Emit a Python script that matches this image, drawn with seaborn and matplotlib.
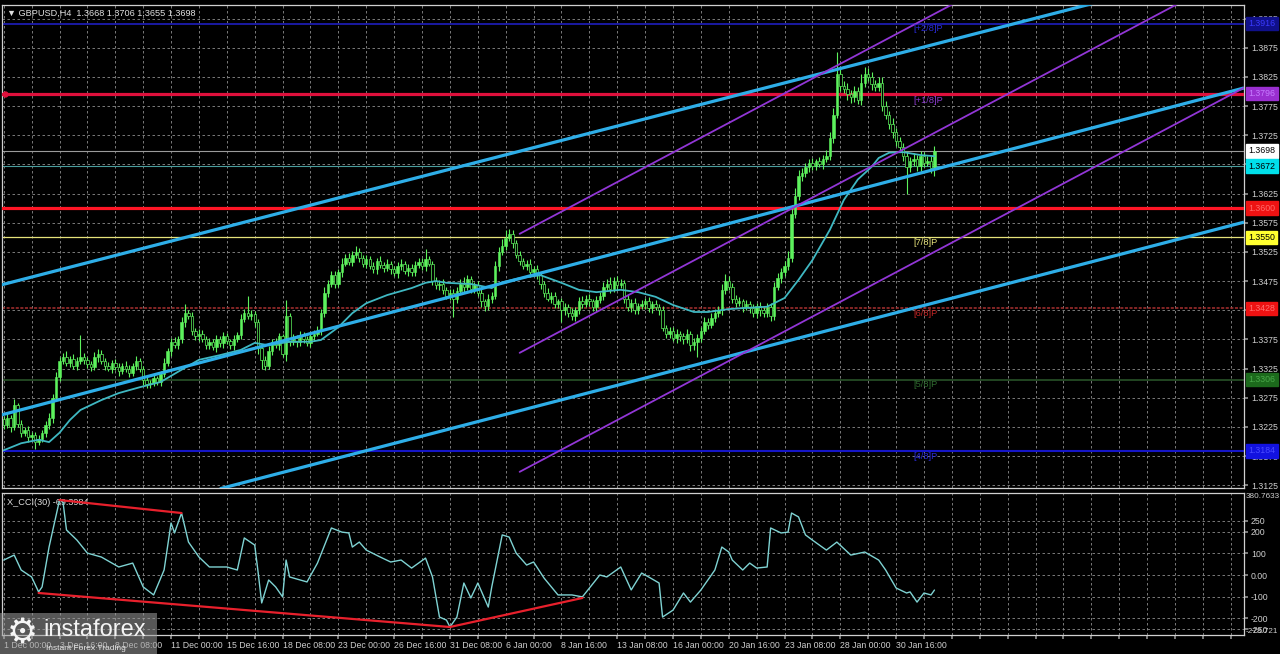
import numpy as np
import pandas as pd
import matplotlib
matplotlib.use("Agg")
import matplotlib.pyplot as plt
import matplotlib.transforms as mtransforms
from matplotlib.patches import Rectangle
import seaborn as sns

# GBPUSD H4 candles, one close per bar
closes = [1.3228, 1.3240, 1.3225, 1.3262,
          1.3230, 1.3215, 1.3220, 1.3208, 1.3212, 1.3200, 1.3205,
          1.3215, 1.3228, 1.3240,
          1.3275, 1.3310, 1.3338,
          1.3345, 1.3335, 1.3342, 1.3330, 1.3338, 1.3345,
          1.3340, 1.3332, 1.3328, 1.3345, 1.3350, 1.3338, 1.3330, 1.3325, 1.3335, 1.3328, 1.3320, 1.3330, 1.3325, 1.3318, 1.3330, 1.3338, 1.3325,
          1.3305, 1.3298, 1.3300, 1.3308, 1.3302, 1.3315,
          1.3335, 1.3355, 1.3370, 1.3365, 1.3375,
          1.3405, 1.3420, 1.3415,
          1.3390, 1.3380, 1.3385,
          1.3375, 1.3365, 1.3370, 1.3362, 1.3375, 1.3368, 1.3380, 1.3372, 1.3365, 1.3375, 1.3382,
          1.3410, 1.3420, 1.3415, 1.3418, 1.3405,
          1.3360, 1.3340, 1.3330, 1.3355,
          1.3370, 1.3365, 1.3380, 1.3350, 1.3415, 1.3370,
          1.3378, 1.3370, 1.3382, 1.3375, 1.3368, 1.3380, 1.3385, 1.3390,
          1.3420, 1.3455, 1.3470,
          1.3485, 1.3470, 1.3490,
          1.3505, 1.3515, 1.3508, 1.3520, 1.3525, 1.3515,
          1.3505, 1.3512, 1.3500, 1.3495, 1.3510, 1.3502, 1.3498, 1.3505,
          1.3495, 1.3488, 1.3500, 1.3505, 1.3492, 1.3498, 1.3490, 1.3502, 1.3508, 1.3500, 1.3512, 1.3505,
          1.3475, 1.3468, 1.3470,
          1.3460, 1.3450, 1.3455, 1.3445, 1.3458,
          1.3470, 1.3465, 1.3478, 1.3462, 1.3468, 1.3455,
          1.3440, 1.3432, 1.3445, 1.3450,
          1.3500, 1.3525, 1.3535,
          1.3548, 1.3555, 1.3540,
          1.3520, 1.3510, 1.3500, 1.3505, 1.3490, 1.3495, 1.3485,
          1.3470, 1.3455, 1.3445, 1.3450, 1.3435, 1.3440,
          1.3425, 1.3430, 1.3420, 1.3415, 1.3425, 1.3440,
          1.3435, 1.3445, 1.3440, 1.3430, 1.3442, 1.3450,
          1.3465, 1.3470, 1.3462, 1.3475, 1.3468, 1.3472,
          1.3445, 1.3430, 1.3438, 1.3425, 1.3432,
          1.3435, 1.3440, 1.3428, 1.3435, 1.3430, 1.3425,
          1.3395, 1.3385, 1.3390, 1.3378, 1.3385, 1.3380,
          1.3375, 1.3385, 1.3365, 1.3370, 1.3378, 1.3390,
          1.3405, 1.3400, 1.3412, 1.3420, 1.3425,
          1.3460, 1.3475, 1.3465,
          1.3445, 1.3438, 1.3440, 1.3430, 1.3435, 1.3428, 1.3420, 1.3432, 1.3425,
          1.3420, 1.3430, 1.3415,
          1.3465, 1.3480,
          1.3490, 1.3500, 1.3515,
          1.3590, 1.3620,
          1.3655, 1.3660,
          1.3670, 1.3678, 1.3672, 1.3680, 1.3675, 1.3685, 1.3690,
          1.3720, 1.3760,
          1.3830,
          1.3810, 1.3805, 1.3795,
          1.3790, 1.3800, 1.3785,
          1.3815, 1.3830, 1.3825,
          1.3812, 1.3808, 1.3815,
          1.3775, 1.3760, 1.3745,
          1.3730, 1.3715, 1.3705,
          1.3690, 1.3670, 1.3680,
          1.3685, 1.3672, 1.3690, 1.3678, 1.3680, 1.3668, 1.3698]
first_open = 1.3238

# wick lengths in pips above / below the body
up_wick = [6, 8, 5, 10, 4, 7, 5, 6, 4, 5,
           6, 5, 7, 8, 6, 9, 7, 6, 10, 5,
           8, 6, 38, 7, 5, 6, 9, 8, 7, 5,
           6, 4, 7, 6, 5, 8, 6, 4, 9, 5,
           4, 6, 5, 7, 4, 6, 8, 5, 7, 9,
           6, 8, 15, 6, 7, 5, 8, 6, 5, 7,
           6, 8, 5, 7, 6, 4, 8, 6, 9, 7,
           30, 8, 6, 5, 7, 6, 8, 5, 7, 6,
           5, 28, 6, 7, 5, 8, 6, 5, 7, 6,
           8, 7, 9, 6, 8, 7, 6, 9, 7, 8,
           6, 10, 7, 5, 8, 6, 7, 5, 8, 6,
           7, 5, 6, 8, 7, 5, 6, 7, 8, 6,
           7, 18, 6, 5, 7, 6, 8, 5, 6, 7,
           6, 8, 12, 7, 6, 5, 7, 6, 5, 8,
           7, 9, 8, 12, 14, 10, 8, 6, 7, 5,
           6, 8, 5, 7, 6, 5, 8, 6, 7, 5,
           6, 7, 5, 8, 6, 7, 9, 6, 8, 5,
           7, 6, 8, 9, 12, 7, 8, 6, 5, 7,
           6, 8, 5, 7, 6, 8, 5, 7, 6, 8,
           5, 7, 6, 8, 5, 6, 7, 5, 8, 6,
           7, 8, 6, 9, 7, 8, 10, 12, 9, 7,
           6, 8, 5, 7, 6, 8, 5, 7, 6, 8,
           7, 9, 8, 7, 10, 12, 15, 14, 10, 8,
           7, 6, 8, 5, 7, 6, 9, 10, 12, 38,
           12, 8, 10, 7, 9, 8, 15, 12, 10, 9,
           8, 10, 9, 8, 7, 9, 8, 7, 6, 8,
           7, 9, 6, 8, 7, 10, 9, 8]
down_wick = [7, 5, 8, 6, 5, 7, 6, 8, 5, 12,
             6, 5, 7, 6, 8, 5, 7, 6, 5, 8,
             6, 7, 5, 8, 6, 7, 5, 8, 6, 7,
             5, 8, 6, 7, 5, 6, 8, 5, 7, 6,
             8, 6, 7, 5, 6, 7, 5, 6, 8, 5,
             7, 6, 8, 5, 7, 6, 8, 5, 6, 7,
             5, 8, 6, 7, 5, 6, 8, 5, 7, 6,
             5, 7, 8, 10, 15, 8, 6, 7, 5, 8,
             6, 12, 7, 5, 8, 6, 7, 5, 6, 8,
             5, 7, 6, 8, 5, 7, 6, 8, 5, 6,
             7, 5, 8, 6, 7, 5, 6, 8, 5, 7,
             6, 8, 5, 7, 6, 5, 8, 6, 7, 5,
             6, 8, 5, 7, 6, 8, 7, 6, 8, 32,
             7, 6, 8, 5, 7, 8, 6, 10, 8, 6,
             7, 5, 8, 6, 7, 5, 8, 6, 7, 5,
             6, 8, 7, 6, 8, 7, 5, 8, 6, 7,
             20, 8, 7, 6, 8, 7, 6, 5, 8, 6,
             7, 5, 8, 6, 7, 6, 8, 5, 7, 6,
             8, 6, 7, 5, 8, 6, 7, 5, 8, 6,
             7, 8, 6, 9, 7, 8, 6, 10, 8, 25,
             7, 6, 8, 5, 7, 6, 8, 7, 6, 8,
             7, 6, 8, 5, 7, 6, 8, 10, 7, 6,
             8, 7, 6, 8, 7, 6, 8, 7, 6, 8,
             7, 8, 6, 7, 5, 8, 6, 7, 8, 6,
             9, 8, 10, 9, 8, 7, 9, 8, 7, 9,
             8, 7, 9, 8, 10, 9, 8, 7, 9, 45,
             8, 7, 9, 8, 7, 6, 8, 13]

# moving average read at sample bars
ma_bars = [0, 5, 10, 13, 16, 19, 22, 28, 33, 39, 45, 51, 56, 62, 68, 72, 76, 82, 88, 91,
           96, 100, 104, 110, 117, 121, 124, 127, 134, 140, 143, 148, 154, 160, 165, 170, 177, 182, 187, 192,
           198, 202, 208, 213, 219, 224, 228, 232, 237, 241, 245, 249, 251, 254, 258, 263, 267]
ma_vals = [1.3185, 1.3197, 1.3203, 1.3199, 1.3215, 1.3237, 1.3254, 1.3271, 1.3283, 1.3293,
           1.3302, 1.3323, 1.3340, 1.3348, 1.3357, 1.3369, 1.3365, 1.3371, 1.3371, 1.3374,
           1.3396, 1.3420, 1.3437, 1.3451, 1.3463, 1.3472, 1.3475, 1.3472, 1.3470, 1.3463,
           1.3473, 1.3480, 1.3485, 1.3472, 1.3460, 1.3456, 1.3460, 1.3456, 1.3448, 1.3434,
           1.3422, 1.3422, 1.3427, 1.3429, 1.3431, 1.3446, 1.3477, 1.3511, 1.3563, 1.3614,
           1.3649, 1.3671, 1.3686, 1.3695, 1.3696, 1.3691, 1.3689]

# X_CCI(30) read at sample bars
cci_bars = [0, 3, 5, 8, 10, 11, 13, 16, 17, 18, 21, 24, 28, 33, 37, 40, 43, 46, 48, 49,
            51, 53, 56, 59, 64, 67, 69, 72, 73, 74, 76, 78, 80, 81, 82, 87, 90, 94, 97, 99,
            100, 102, 104, 108, 111, 114, 117, 121, 123, 125, 127, 128, 130, 132, 134, 136, 139, 140, 143, 145,
            147, 150, 152, 155, 159, 163, 166, 171, 173, 177, 180, 183, 185, 188, 189, 192, 195, 197, 200, 204,
            206, 208, 209, 212, 214, 216, 219, 220, 223, 225, 226, 228, 230, 232, 236, 239, 243, 247, 251, 253,
            256, 259, 260, 262, 264, 266, 267]
cci_vals = [69, 92, 23, -9, -78, -55, 129, 346, 337, 208, 161, 101, 83, 37, 55, -55, -92, 23, 240, 194,
            286, 152, 83, 37, 37, 23, 171, 138, 9, -129, -23, -55, -101, 69, -9, -32, 55, 217, 198, 194,
            129, 152, 115, 83, 60, 69, 32, 78, -9, -194, -208, -240, -194, -37, -106, -37, -148, -55, 185, 175,
            101, 46, 60, -14, -92, -92, -101, 0, -9, 37, -69, 9, -9, -37, -194, -162, -83, -125, -69, 23,
            129, 106, 69, 23, 55, 32, 37, 217, 194, 198, 286, 268, 185, 161, 115, 152, 92, 106, 69, 23,
            -60, -83, -78, -125, -83, -92, -69.3984]

# trend lines: (bar0, price0, bar1, price1)
channel_lines = [(-1, 1.3468, 356, 1.4018), (-1, 1.3245, 355.8, 1.3806), (62, 1.3119, 355.8, 1.3576)]
pitch_lines = [(148, 1.3556, 356, 1.4215), (148, 1.3352, 356, 1.4011), (148, 1.3148, 356, 1.3807)]
cci_lines = [(16, 346, 51, 286), (10, -83, 128, -240), (128, -240, 166, -106)]

# horizontal levels
level_prices = [1.3916, 1.3796, 1.3698, 1.3672, 1.3600, 1.3550, 1.3428, 1.3306, 1.3184]
level_texts = ["1.3916", "1.3796", "1.3698", "1.3672", "1.3600", "1.3550", "1.3428", "1.3306", "1.3184"]
murray_names = ["[+2/8]P", "[+1/8]P", "[7/8]P", "[6/8]P", "[5/8]P", "[4/8]P"]
murray_prices = [1.3916, 1.3794, 1.3550, 1.3428, 1.3306, 1.3184]

price_ticks = [1.3125, 1.3175, 1.3225, 1.3275, 1.3325, 1.3375, 1.3425, 1.3475,
               1.3525, 1.3575, 1.3625, 1.3675, 1.3725, 1.3775, 1.3825, 1.3875, 1.3925]
cci_ticks = [250, 200, 100, 0, -100, -200, -250]
cci_tick_text = ["250", "200", "100", "0.00", "-100", "-200", "-250"]

time_bars = [0, 16, 32, 48, 64, 80, 96, 112, 128, 144, 160, 176, 192, 208, 224, 240, 256]
time_texts = ["1 Dec 00:00", "3 Dec 16:00", "8 Dec 08:00", "11 Dec 00:00", "15 Dec 16:00",
              "18 Dec 08:00", "23 Dec 00:00", "26 Dec 16:00", "31 Dec 08:00", "6 Jan 00:00",
              "8 Jan 16:00", "13 Jan 08:00", "16 Jan 00:00", "20 Jan 16:00", "23 Jan 08:00",
              "28 Jan 00:00", "30 Jan 16:00"]

assert len(closes) == len(up_wick) == len(down_wick)

# ---------------------------------------------------------------
sns.set_theme(style="dark", rc={"axes.facecolor": "black", "figure.facecolor": "black",
                                "savefig.facecolor": "black"})
plt.rcParams["font.family"] = ["Liberation Sans", "DejaVu Sans"]

GREEN = "#5df25d"
GRID = "#8c8c8c"
TXT = "#cfcfcf"
FS = 6.3

df = pd.DataFrame({"close": closes})
df["open"] = [first_open] + closes[:-1]
df["high"] = df[["open", "close"]].max(axis=1) + np.array(up_wick) / 10000
df["low"] = df[["open", "close"]].min(axis=1) - np.array(down_wick) / 10000
df["bar"] = np.arange(len(df))

W, H = 1280, 654
fig = plt.figure(figsize=(12.8, 6.54), dpi=100)
ax = fig.add_axes([2 / W, 1 - 488 / H, 1242 / W, 483 / H])
cax = fig.add_axes([2 / W, 1 - 635.4 / H, 1242 / W, 142.9 / H])

xlim = (-0.5, 355.8)
for a in (ax, cax):
    a.set_facecolor("black")
    a.set_xlim(*xlim)
    for s in a.spines.values():
        s.set_color("#d0d0d0")
        s.set_linewidth(0.9)
    a.set_xticks(list(range(0, 356, 8)))
    a.grid(True, color=GRID, linestyle=(0, (3, 3)), linewidth=0.6)
    a.set_axisbelow(True)
    a.yaxis.tick_right()
    a.tick_params(axis="y", colors=GRID, labelcolor=TXT, labelsize=FS, length=3, pad=2, direction="out", right=True)
    a.tick_params(axis="x", colors=GRID, labelcolor=TXT, labelsize=FS, length=3, pad=1, bottom=True)

ax.set_ylim(1.31203, 1.39482)
ax.set_yticks(price_ticks)
ax.set_yticklabels([f"{p:.4f}" for p in price_ticks])
ax.tick_params(axis="x", labelbottom=False, length=0)

# horizontal levels
ax.axhline(1.3916, color="#1c1cb0", lw=1.3, zorder=2)
ax.axhline(1.3796, color="#e0103c", lw=2.3, zorder=3)
ax.plot([0.4], [1.3796], "o", color="#e0103c", ms=3.5, zorder=3)
ax.axhline(1.3698, color="#9a9a9a", lw=0.8, zorder=2)
ax.axhline(1.3672, color="#4a9e9e", lw=0.8, zorder=2)
ax.axhline(1.3600, color="#ff1525", lw=2.3, zorder=3)
ax.axhline(1.3550, color="#e6e27a", lw=0.9, zorder=2)
ax.axhline(1.3428, color="#a83030", lw=1.1, ls=(0, (2, 1)), zorder=2)
ax.axhline(1.3306, color="#2c5a2c", lw=1.1, zorder=2)
ax.axhline(1.3184, color="#1515c8", lw=1.5, zorder=2)

# candles
up = df["close"] >= df["open"]
ax.vlines(df["bar"], df["low"], df["high"], color=GREEN, lw=0.8, zorder=4)
ax.bar(df["bar"][up], (df["close"] - df["open"])[up], bottom=df["open"][up], width=0.7,
       color=GREEN, edgecolor=GREEN, linewidth=0.4, zorder=5)
ax.bar(df["bar"][~up], (df["open"] - df["close"])[~up], bottom=df["close"][~up], width=0.7,
       color="black", edgecolor=GREEN, linewidth=0.5, zorder=5)

# moving average
sns.lineplot(x=ma_bars, y=ma_vals, ax=ax, color="#3fb8c2", linewidth=1.3, zorder=7)

# channels and pitchfork
for b0, p0, b1, p1 in channel_lines:
    ax.plot([b0, b1], [p0, p1], color="#2eaee8", lw=2.3, zorder=8, solid_capstyle="butt")
for b0, p0, b1, p1 in pitch_lines:
    ax.plot([b0, b1], [p0, p1], color="#9236d6", lw=1.3, zorder=8)

# Murray labels
murray_colors = ["#2a2ad8", "#8d3cd0", "#e6e27a", "#c02424", "#2f6b2f", "#2a2ad8"]
for name, p, c in zip(murray_names, murray_prices, murray_colors):
    ax.text(261, p - 0.00012, name, color=c, fontsize=FS + 0.4, va="top", ha="left", zorder=9)

# right price boxes
trans = mtransforms.blended_transform_factory(ax.transAxes, ax.transData)
box_bg = ["#10108a", "#9a2fd0", "#ffffff", "#00e0ea", "#ee1212", "#ffff30", "#ee1212", "#1c6a1c", "#1212e0"]
box_fg = ["#3a3aff", "#c77cff", "#000000", "#000000", "#ff6a6a", "#000000", "#ff7070", "#49a849", "#4a4aff"]
for p, t, bg, fg in zip(level_prices, level_texts, box_bg, box_fg):
    ax.text(1.0035, p, t, transform=trans, fontsize=FS, color=fg, va="center", ha="left",
            bbox=dict(boxstyle="square,pad=0.25", fc=bg, ec=bg), clip_on=False, zorder=20)

ax.text(0.004, 0.993, "\u25bc GBPUSD,H4  1.3668 1.3706 1.3655 1.3698", transform=ax.transAxes,
        fontsize=FS + 0.3, color="#e0e0e0", va="top", ha="left")

# CCI panel
cax.set_ylim(-278.72, 380.76)
cax.set_yticks(cci_ticks)
cax.set_yticklabels(cci_tick_text)
sns.lineplot(x=cci_bars, y=cci_vals, ax=cax, color="#7fd3d3", linewidth=1.0, zorder=5)
for b0, v0, b1, v1 in cci_lines:
    cax.plot([b0, b1], [v0, v1], color="#e8202c", lw=1.6, zorder=6)
cax.set_xticklabels([time_texts[time_bars.index(b)] if b in time_bars else "" for b in range(0, 356, 8)],
                    ha="left")
cax.text(0.004, 0.965, "X_CCI(30) -69.3984", transform=cax.transAxes, fontsize=FS + 0.3,
         color="#e0e0e0", va="top", ha="left")
cax.text(1.0015, 1.0, "380.7633", transform=cax.transAxes, fontsize=5.9, color=TXT,
         va="top", ha="left", clip_on=False)
cax.text(1.0015, 0.0, "-278.721", transform=cax.transAxes, fontsize=5.9, color=TXT,
         va="bottom", ha="left", clip_on=False)
for a in (ax, cax):
    a.set_xlabel("")
    a.set_ylabel("")

# instaforex logo
fig.patches.append(Rectangle((0, 0), 157 / W, 41 / H, transform=fig.transFigure,
                             fc="#a0a0a0", ec="none", alpha=0.55, zorder=50))
fig.text(22 / W, 1 - 633 / H, "\u2699", fontsize=25, color="#f4f4f4", ha="center", va="center",
         family="DejaVu Sans", zorder=51)
fig.text(43 / W, 1 - 630 / H, "instaforex", fontsize=17, color="#f4f4f4", ha="left", va="center", zorder=51)
fig.text(46 / W, 1 - 648 / H, "Instant Forex Trading", fontsize=6, color="#e6e6e6", ha="left",
         va="center", zorder=51)

fig.savefig("out.png", dpi=100, facecolor="black")
